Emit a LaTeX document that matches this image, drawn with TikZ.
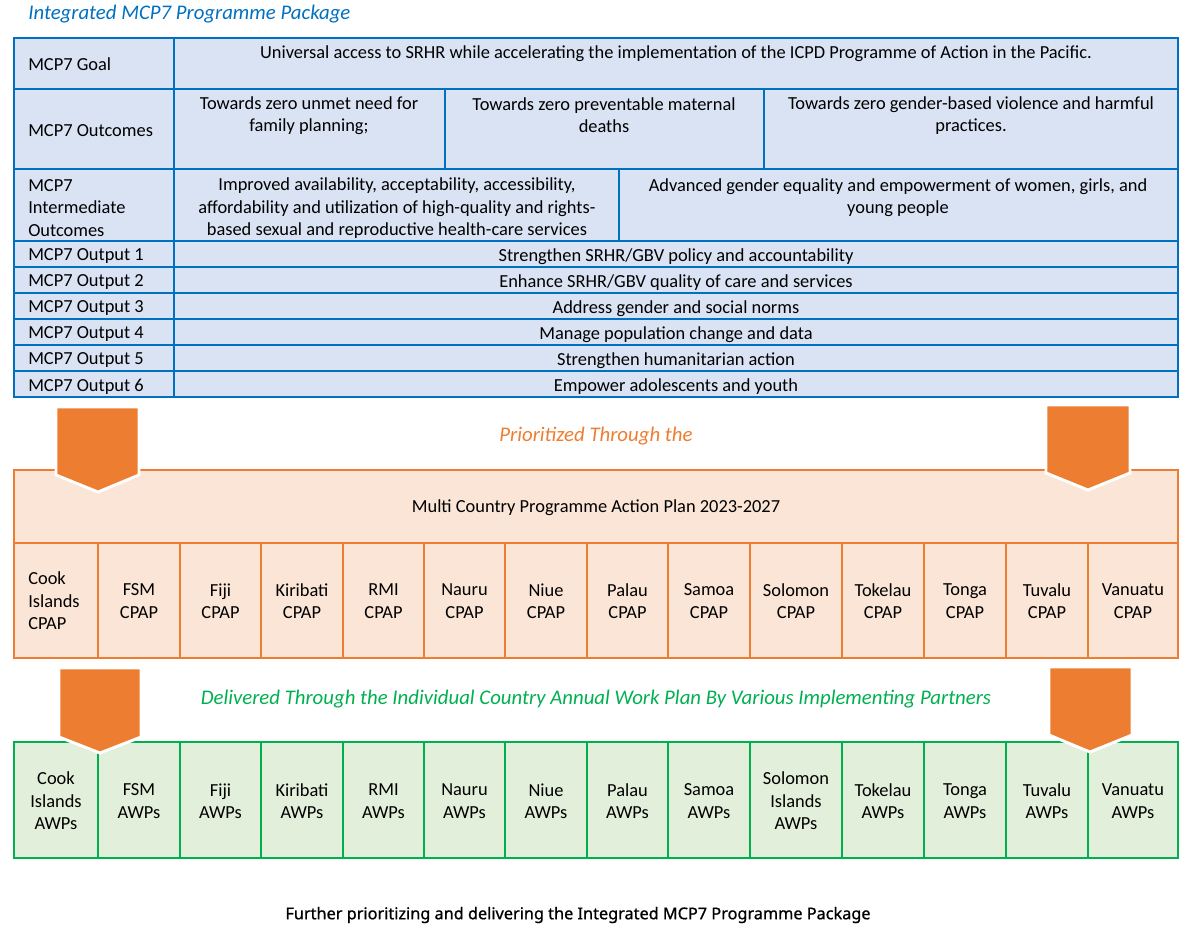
\documentclass[tikz,border=0pt]{standalone}
\usepackage{fontspec}
\setmainfont{Carlito}
\newfontfamily\capfont[FakeBold=1]{Noto Sans}
\usetikzlibrary{positioning}
\definecolor{mcpblue}{HTML}{0070C0}
\definecolor{mcpbluefill}{HTML}{DAE3F3}
\definecolor{mcporange}{HTML}{ED7D31}
\definecolor{mcporangefill}{HTML}{FBE5D6}
\definecolor{mcpgreen}{HTML}{00B050}
\definecolor{mcpgreenfill}{HTML}{E2EFDA}
\newcommand{\cellfont}{\fontsize{13.8}{16.9}\selectfont}
\tikzset{
  txt/.style={inner sep=0pt, font=\cellfont, align=center},
  lbl/.style={inner sep=0pt, font=\cellfont, align=left, anchor=west},
  heading/.style={inner sep=0pt, font=\fontsize{15.6}{18}\selectfont\itshape},
  outerline/.style={line width=2.2pt},
  innerline/.style={line width=1.5pt},
  blockarrow/.style={fill=mcporange, draw=white, line width=2.2pt, line join=miter}
}

\begin{document}
\begin{tikzpicture}[x=0.75pt, y=-0.75pt]
  \useasboundingbox (0,0) rectangle (1196,928);
  % programme package table
  \node[heading, text=mcpblue, anchor=west] (title) at (28,14) {Integrated MCP7 Programme Package};
  \fill[mcpbluefill] (14,38) rectangle (1178,397);
  \foreach \y in {89,169,241,267,293,319,345,371}
    \draw[innerline, mcpblue] (14,\y) -- (1178,\y);
  \draw[innerline, mcpblue] (174,38) -- (174,397);
  \draw[innerline, mcpblue] (445,89) -- (445,169);
  \draw[innerline, mcpblue] (764,89) -- (764,169);
  \draw[innerline, mcpblue] (619,169) -- (619,241);
  \draw[outerline, mcpblue] (14,38) rectangle (1178,397);
  \node[lbl] (goal) at (28,64) {MCP7 Goal};
  \node[txt] (goal-txt) at (676,53.5) {Universal access to SRHR while accelerating the implementation of the ICPD Programme of Action in the Pacific.};
  \node[lbl] (outc) at (28,130.5) {MCP7 Outcomes};
  \node[txt] (outc-fp) at (309,115.5) {Towards zero unmet need for\\family planning;};
  \node[txt] (outc-md) at (604,115) {Towards zero preventable maternal\\deaths};
  \node[txt] (outc-gbv) at (971,115.5) {Towards zero gender-based violence and harmful\\practices.};
  \node[lbl] (inter) at (28,208) {MCP7\\Intermediate\\Outcomes};
  \node[txt] (inter-srh) at (397,208.5) {Improved availability, acceptability, accessibility,\\affordability and utilization of high-quality and rights-\\based sexual and reproductive health-care services};
  \node[txt] (inter-ge) at (898,197.5) {Advanced gender equality and empowerment of women, girls, and\\young people};
  \foreach \i/\y/\out in {1/256.5/{Strengthen SRHR/GBV policy and accountability},
      2/282.5/{Enhance SRHR/GBV quality of care and services},
      3/308.5/{Address gender and social norms},
      4/334.5/{Manage population change and data},
      5/360.5/{Strengthen humanitarian action},
      6/386.5/{Empower adolescents and youth}} {
    \node[lbl] (out\i) at (28,\y) {MCP7 Output \i};
    \node[txt] (out\i-txt) at (676,\y) {\out};
  }

  % action plan
  \node[heading, text=mcporange] (prio) at (596,436) {Prioritized Through the};
  \fill[mcporangefill] (14,470) rectangle (1178,658);
  \draw[innerline, mcporange] (14,543) -- (1178,543);
  \foreach \x in {98,180,261,343,424,505,587,668,750,842,924,1006,1088}
    \draw[innerline, mcporange] (\x,543) -- (\x,658);
  \draw[outerline, mcporange] (14,470) rectangle (1178,658);
  \node[txt] (mcpap) at (596,508) {Multi Country Programme Action Plan 2023-2027};
  \node[lbl] (cpap-cook) at (28,601) {Cook\\Islands\\CPAP};
  \foreach \l/\r/\nm/\ctry in {98/180/fsm/FSM, 180/261/fiji/Fiji, 261/343/kir/Kiribati,
      343/424/rmi/RMI, 424/505/nau/Nauru, 505/587/niu/Niue, 587/668/pal/Palau,
      668/750/sam/Samoa, 750/842/sol/Solomon, 842/924/tok/Tokelau, 924/1006/ton/Tonga,
      1006/1088/tuv/Tuvalu, 1088/1178/van/Vanuatu}
    \node[txt] (cpap-\nm) at ({(\l+\r)/2},601) {\ctry\\CPAP};

  % annual work plans
  \node[heading, text=mcpgreen] (deliv) at (596,699) {Delivered Through the Individual Country Annual Work Plan By Various Implementing Partners};
  \fill[mcpgreenfill] (14,742) rectangle (1178,858);
  \foreach \x in {98,180,261,343,424,505,587,668,750,842,924,1006,1088}
    \draw[innerline, mcpgreen] (\x,742) -- (\x,858);
  \draw[outerline, mcpgreen] (14,742) rectangle (1178,858);
  \foreach \l/\r/\nm/\ctry in {14/98/cook/{Cook\\Islands}, 98/180/fsm/FSM, 180/261/fiji/Fiji,
      261/343/kir/Kiribati, 343/424/rmi/RMI, 424/505/nau/Nauru, 505/587/niu/Niue,
      587/668/pal/Palau, 668/750/sam/Samoa, 750/842/sol/{Solomon\\Islands},
      842/924/tok/Tokelau, 924/1006/ton/Tonga, 1006/1088/tuv/Tuvalu, 1088/1178/van/Vanuatu}
    \node[txt] (awp-\nm) at ({(\l+\r)/2},801) {\ctry\\AWPs};

  % block arrows
  \draw[blockarrow] (56,407) -- (139,407) -- (139,475) -- (98,492) -- (56,475) -- cycle;
  \draw[blockarrow] (1046,405) -- (1130,405) -- (1130,473) -- (1088,490) -- (1046,473) -- cycle;
  \draw[blockarrow] (59,668) -- (141,668) -- (141,737) -- (100,753) -- (59,737) -- cycle;
  \draw[blockarrow] (1049,667) -- (1132,667) -- (1132,735) -- (1090,752) -- (1049,735) -- cycle;

  \node[inner sep=0pt, font=\capfont\fontsize{12.2}{14}\selectfont] (caption) at (578,915) {Further prioritizing and delivering the Integrated MCP7 Programme Package};
\end{tikzpicture}
\end{document}
